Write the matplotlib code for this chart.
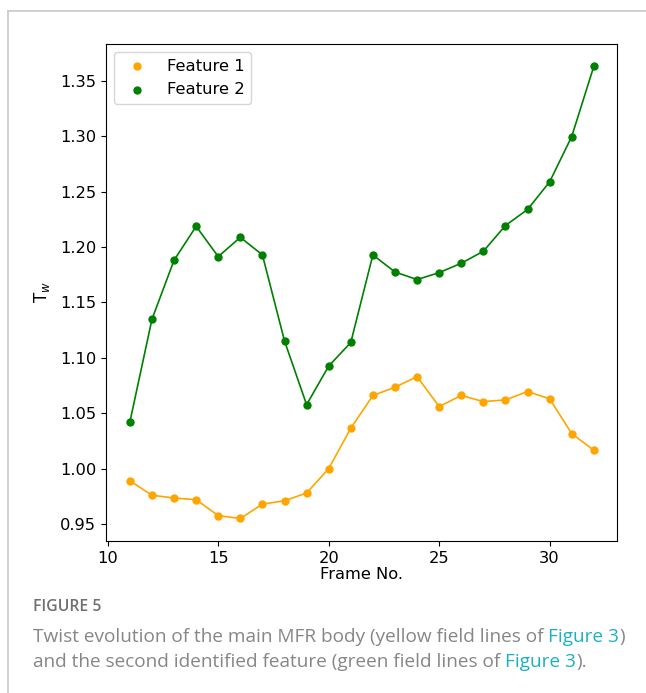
import matplotlib
matplotlib.use("Agg")
import matplotlib.pyplot as plt
from matplotlib.lines import Line2D

# Data
frames = list(range(11, 33))
feature1 = [0.989, 0.976, 0.9735, 0.972, 0.9576, 0.955, 0.968, 0.971, 0.978, 1.000,
            1.0364, 1.066, 1.0734, 1.083, 1.056, 1.066, 1.0605, 1.062, 1.0695, 1.063,
            1.0316, 1.0166]
feature2 = [1.042, 1.1347, 1.188, 1.2186, 1.1913, 1.2087, 1.1928, 1.1152, 1.0577, 1.0925,
            1.1138, 1.1928, 1.1774, 1.1706, 1.1768, 1.1853, 1.1961, 1.2193, 1.2338, 1.2587,
            1.2996, 1.3629]
labels = ["Feature 1", "Feature 2"]
colors = ["orange", "green"]

fig = plt.figure(figsize=(6.46, 6.93), dpi=100)
ax = fig.add_axes([106 / 646, 1 - 541 / 693, 511 / 646, 497 / 693])

for ys, lab, c in zip([feature1, feature2], labels, colors):
    ax.plot(frames, ys, color=c, linewidth=1.2)
    ax.scatter(frames, ys, color=c, s=25, label=lab, zorder=3)

ax.set_xlim(9.92, 33.05)
ax.set_ylim(0.9347, 1.3831)
ax.tick_params(labelsize=11.7)
ax.set_xlabel("Frame No.", fontsize=11.7, labelpad=1)
ax.set_ylabel("T$_w$", fontsize=12, labelpad=6)
ax.legend(loc="upper left", fontsize=11.8)

# page frame lines
fig.add_artist(Line2D([8 / 646, 1], [1 - 11 / 693, 1 - 11 / 693], color="#c8c8c8", lw=1.2))
fig.add_artist(Line2D([8 / 646, 8 / 646], [0, 1 - 11 / 693], color="#c8c8c8", lw=1.2))

# caption
cap_font = ["Open Sans", "DejaVu Sans"]
fig.text(33 / 646, 1 - 611 / 693, "FIGURE 5", fontsize=11.3, color="#707070",
         family=cap_font, fontweight="semibold", va="baseline")

def chain(parts, x, y):
    prev = None
    for txt, col in parts:
        if prev is None:
            prev = fig.text(x, y, txt, fontsize=13.7, color=col, family=cap_font,
                            va="baseline")
        else:
            prev = ax.annotate(txt, xy=(1, 0), xycoords=prev, fontsize=13.7,
                               color=col, family=cap_font, va="bottom",
                               annotation_clip=False)

grey = "#868686"
cyan = "#1ab0c6"
chain([("Twist evolution of the main MFR body (yellow field lines of ", grey),
       ("Figure 3", cyan), (")", grey)], 33 / 646, 1 - 642 / 693)
chain([("and the second identified feature (green field lines of ", grey),
       ("Figure 3", cyan), (").", grey)], 33 / 646, 1 - 667 / 693)

fig.savefig("out.png", dpi=100)
